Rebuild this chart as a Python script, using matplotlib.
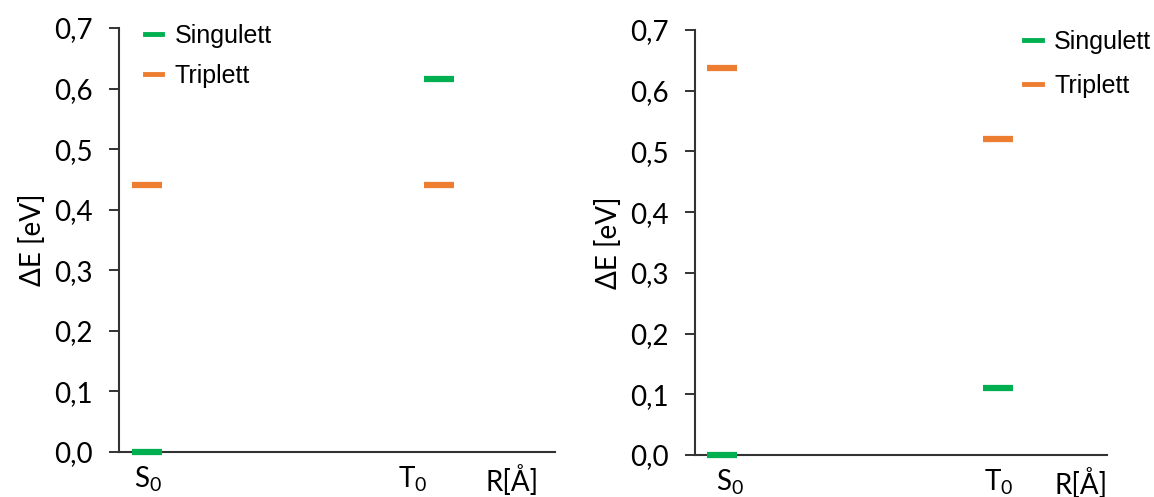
import matplotlib
matplotlib.use('Agg')
import matplotlib.pyplot as plt
from matplotlib.lines import Line2D

# energy levels (eV) at the S0 and T0 geometries
states = ['S0', 'T0']
left_singulett = [0.0, 0.615]
left_triplett = [0.44, 0.44]
right_singulett = [0.0, 0.11]
right_triplett = [0.638, 0.52]

y_ticks = [0.0, 0.1, 0.2, 0.3, 0.4, 0.5, 0.6, 0.7]
y_ticklabels = ['0,0', '0,1', '0,2', '0,3', '0,4', '0,5', '0,6', '0,7']
x_ticklabels = [r'S$_0$', r'T$_0$', 'R[Å]']

GREEN = '#00B050'
ORANGE = '#ED7D31'
AXIS = '#333333'

plt.rcParams['font.family'] = ['Lato', 'DejaVu Sans']
plt.rcParams['mathtext.fontset'] = 'custom'
plt.rcParams['mathtext.rm'] = 'Lato'
plt.rcParams['mathtext.it'] = 'Lato'

fig = plt.figure(figsize=(11.54, 4.97), dpi=100)
ax1 = fig.add_axes([0.1031, 0.0905, 0.378, 0.8532])
ax2 = fig.add_axes([0.6023, 0.0845, 0.357, 0.8551])

panels = [
    (ax1, left_singulett, left_triplett, [0.64, 7.34], [0.66, 6.74, 9.01],
     (0.1256, 0.952), 0.64),
    (ax2, right_singulett, right_triplett, [0.66, 7.35], [0.85, 7.38, 9.37],
     (0.8875, 0.94), 0.8),
]

for ax, sing, trip, xpos, tickpos, legpos, spacing in panels:
    ax.plot(xpos, trip, linestyle='none', marker='_', markersize=21,
            mew=4.5, color=ORANGE, zorder=4)
    ax.plot(xpos, sing, linestyle='none', marker='_', markersize=21,
            mew=4.5, color=GREEN, clip_on=False, zorder=4)
    ax.set_xlim(0, 10)
    ax.set_ylim(0, 0.7)
    ax.set_yticks(y_ticks)
    ax.set_yticklabels(y_ticklabels)
    ax.set_xticks(tickpos)
    ax.set_xticklabels(x_ticklabels)
    ax.tick_params(axis='y', direction='out', length=7, width=1.4,
                   color=AXIS, labelsize=20, pad=12)
    ax.tick_params(axis='x', length=0, labelsize=20, pad=9)
    for side in ['top', 'right']:
        ax.spines[side].set_visible(False)
    for side in ['left', 'bottom']:
        ax.spines[side].set_color(AXIS)
        ax.spines[side].set_linewidth(1.5)
    ax.set_ylabel('ΔE [eV]', fontsize=20, labelpad=6)

    handles = [Line2D([], [], color=GREEN, lw=3.5),
               Line2D([], [], color=ORANGE, lw=3.5)]
    fig.legend(handles, ['Singulett', 'Triplett'], loc='upper left',
               bbox_to_anchor=legpos, frameon=False, borderpad=0,
               borderaxespad=0, handlelength=0.7, handletextpad=0.5,
               labelspacing=spacing,
               prop={'family': 'Liberation Sans', 'size': 18})

fig.savefig('out.png', dpi=100)
